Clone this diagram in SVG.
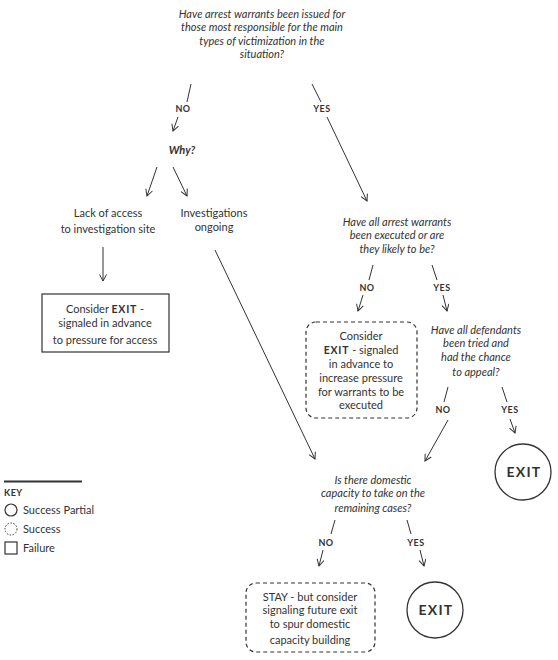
<svg xmlns="http://www.w3.org/2000/svg" width="558" height="660" viewBox="0 0 558 660">
<defs>
<marker id="ah" viewBox="0 0 8 8" refX="7" refY="4" markerWidth="8" markerHeight="8" markerUnits="userSpaceOnUse" orient="auto">
<path d="M0.5,0.5 L7,4 L0.5,7.5" fill="none" stroke="#333" stroke-width="1"/>
</marker>
<style>
text{font-family:Lato,"Open Sans","Liberation Sans",sans-serif;fill:#333;font-size:11px;text-anchor:middle}
.q{font-style:italic}
.lbl{font-size:9px;font-weight:bold;letter-spacing:0.5px}
.b{font-weight:bold;letter-spacing:0.8px}
.ln{stroke:#333;stroke-width:1;fill:none}
.ar{stroke:#333;stroke-width:1;fill:none;marker-end:url(#ah)}
.box{fill:#fff;stroke:#333;stroke-width:1.2}
.dbox{fill:#fff;stroke:#333;stroke-width:1.2;stroke-dasharray:4 3}
.circ{fill:#fff;stroke:#333;stroke-width:1.3}
.ex{font-size:14px;font-weight:bold;letter-spacing:1.2px}
.key{text-anchor:start}
</style>
</defs>
<rect width="558" height="660" fill="#fff"/>

<g id="connectors">
<line class="ln" x1="191" y1="84" x2="187" y2="102"/>
<text class="lbl" x="183" y="112">NO</text>
<line class="ar" x1="178" y1="117" x2="173" y2="131"/>
<line class="ln" x1="312" y1="84" x2="321" y2="102"/>
<text class="lbl" x="322" y="112">YES</text>
<line class="ar" x1="327" y1="117" x2="367" y2="201"/>
<line class="ar" x1="157" y1="167" x2="147" y2="196"/>
<line class="ar" x1="173" y1="167" x2="187" y2="196"/>
<line class="ar" x1="103" y1="247" x2="103" y2="281"/>
<line class="ar" x1="215" y1="250" x2="315" y2="459"/>
<line class="ln" x1="373" y1="265" x2="369" y2="280"/>
<text class="lbl" x="367" y="291">NO</text>
<line class="ar" x1="363" y1="295" x2="358" y2="311"/>
<line class="ln" x1="432" y1="265" x2="437" y2="280"/>
<text class="lbl" x="442" y="291">YES</text>
<line class="ar" x1="443" y1="295" x2="447" y2="311"/>
<line class="ln" x1="448" y1="387" x2="444" y2="402"/>
<text class="lbl" x="443" y="413">NO</text>
<line class="ar" x1="448" y1="420" x2="425" y2="461"/>
<line class="ln" x1="502" y1="387" x2="507" y2="402"/>
<text class="lbl" x="510" y="413">YES</text>
<line class="ar" x1="510" y1="419" x2="515" y2="433"/>
<line class="ln" x1="335" y1="520" x2="331" y2="534"/>
<text class="lbl" x="326" y="546">NO</text>
<line class="ar" x1="323" y1="550" x2="319" y2="566"/>
<line class="ln" x1="407" y1="520" x2="411" y2="534"/>
<text class="lbl" x="416" y="546">YES</text>
<line class="ar" x1="420" y1="550" x2="424" y2="566"/>
</g>

<g id="q1">
<text class="q" x="262" y="18">Have arrest warrants been issued  for</text>
<text class="q" x="262" y="31">those most responsible for the main</text>
<text class="q" x="262" y="45">types of  victimization in the</text>
<text class="q" x="262" y="58">situation?</text>
</g>

<g id="why">
<text class="q" x="182" y="154" font-weight="bold">Why?</text>
</g>

<g id="lack">
<text x="108" y="217">Lack of access</text>
<text x="108" y="233">to investigation site</text>
</g>

<g id="ongoing">
<text x="214" y="217">Investigations</text>
<text x="214" y="231">ongoing</text>
</g>

<g id="fail-box">
<rect class="box" x="42" y="294" width="127" height="58"/>
<text x="105" y="313">Consider <tspan class="b" font-size="10.5">EXIT</tspan> -</text>
<text x="105" y="327">signaled  in advance</text>
<text x="105" y="344">to pressure for access</text>
</g>

<g id="q2">
<text class="q" x="397" y="226">Have all arrest warrants</text>
<text class="q" x="397" y="239">been executed or are</text>
<text class="q" x="397" y="253">they likely to be?</text>
</g>

<g id="consider-box">
<rect class="dbox" x="306" y="322" width="111" height="96" rx="10"/>
<text x="361" y="340">Consider</text>
<text x="361" y="354"><tspan class="b" font-size="10.5">EXIT</tspan> - signaled</text>
<text x="361" y="368">in advance to</text>
<text x="361" y="382">increase pressure</text>
<text x="361" y="396">for warrants to be</text>
<text x="361" y="409">executed</text>
</g>

<g id="q3">
<text class="q" x="476" y="334">Have all defendants</text>
<text class="q" x="476" y="347">been tried and</text>
<text class="q" x="476" y="361">had the chance</text>
<text class="q" x="476" y="376">to appeal?</text>
</g>

<g id="exit1">
<circle class="circ" cx="523" cy="472" r="28"/>
<text class="ex" x="524" y="477">EXIT</text>
</g>

<g id="q4">
<text class="q" x="373" y="484">Is there domestic</text>
<text class="q" x="373" y="497">capacity to take on the</text>
<text class="q" x="373" y="512">remaining cases?</text>
</g>

<g id="stay-box">
<rect class="dbox" x="246" y="583" width="129" height="69" rx="10"/>
<text x="310" y="601">STAY - but consider</text>
<text x="310" y="614">signaling future exit</text>
<text x="310" y="628">to spur domestic</text>
<text x="310" y="644">capacity  building</text>
</g>

<g id="exit2">
<circle class="circ" cx="435" cy="610" r="28"/>
<text class="ex" x="436" y="615">EXIT</text>
</g>

<g id="key">
<line x1="4" y1="481.5" x2="82" y2="481.5" stroke="#333" stroke-width="2"/>
<text class="key lbl" x="4" y="496">KEY</text>
<circle cx="11" cy="510" r="6" fill="none" stroke="#333" stroke-width="1.2"/>
<text class="key" x="23" y="514">Success  Partial</text>
<circle cx="11" cy="529" r="6" fill="none" stroke="#333" stroke-width="1" stroke-dasharray="1.5 1.5"/>
<text class="key" x="23" y="533">Success</text>
<rect x="5" y="542" width="12" height="12" fill="none" stroke="#333" stroke-width="1.2"/>
<text class="key" x="23" y="552">Failure</text>
</g>
</svg>
